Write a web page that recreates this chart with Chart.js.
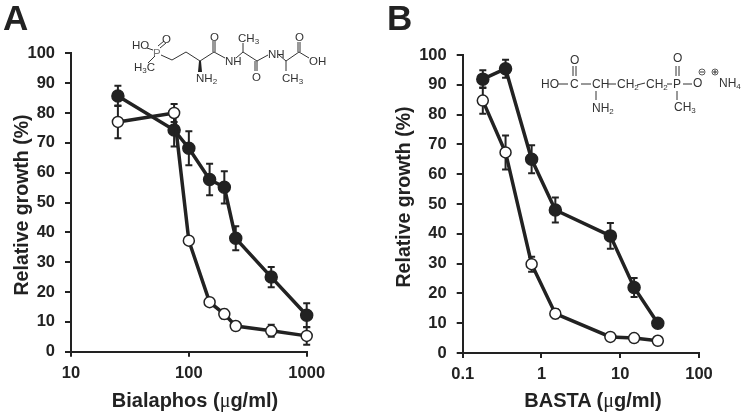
<!DOCTYPE html>
<html>
<head>
<meta charset="utf-8">
<script src="https://cdn.jsdelivr.net/npm/chart.js@4/dist/chart.umd.min.js"></script>
<style>
html, body { margin: 0; padding: 0; background: #fff; }
#wrap { position: relative; width: 747px; height: 417px; overflow: hidden; font-family: "Liberation Sans", Arial, sans-serif; color: #222; }
canvas { position: absolute; top: 0; }
#chartA { left: 0; }
#chartB { left: 374px; }
.panel { position: absolute; font-weight: bold; font-size: 35px; line-height: 35px; }
.xtitle { position: absolute; top: 389px; font-weight: bold; font-size: 20px; line-height: 22px; white-space: nowrap; transform: translateX(-50%); }
.xtitle i { font-family: "Liberation Serif", serif; font-style: normal; font-weight: normal; font-size: 20px; }
.ytitle { position: absolute; font-weight: bold; font-size: 19.5px; line-height: 22px; white-space: nowrap; transform: translate(-50%, -50%) rotate(-90deg); }
svg { position: absolute; left: 0; top: 0; }
svg text { font-family: "Liberation Sans", Arial, sans-serif; font-size: 11.5px; fill: #333; }
svg line, svg polyline { stroke: #333; stroke-width: 1; fill: none; }
</style>
</head>
<body>
<div id="wrap">
  <canvas id="chartA" width="374" height="417"></canvas>
  <canvas id="chartB" width="373" height="417"></canvas>
  <div class="panel" style="left:3px;top:0px">A</div>
  <div class="panel" style="left:387px;top:0px">B</div>
  <div class="ytitle" style="left:21px;top:205px">Relative growth (%)</div>
  <div class="ytitle" style="left:403px;top:197px">Relative growth (%)</div>
  <div class="xtitle" style="left:195px">Bialaphos (<i>μ</i>g/ml)</div>
  <div class="xtitle" style="left:593px">BASTA (<i>μ</i>g/ml)</div>

  <svg width="747" height="417">
    <!-- bialaphos -->
    <text x="132" y="49">HO</text>
    <text x="153" y="57" style="fill:#777">P</text>
    <text x="162" y="43">O</text>
    <text x="134" y="71">H<tspan dy="2" font-size="8">3</tspan><tspan dy="-2">C</tspan></text>
    <line x1="147" y1="48" x2="153" y2="50"/>
    <line x1="148" y1="63" x2="155" y2="56"/>
    <line x1="158" y1="46" x2="164" y2="41"/>
    <line x1="160" y1="48" x2="166" y2="43"/>
    <polyline points="161,55 172,60 186,52 200,61 214,52 225,58"/>
    <polygon points="199,61 201,61 202,72 198,72" fill="#222"/>
    <text x="196" y="82">NH<tspan dy="2" font-size="8">2</tspan></text>
    <line x1="213" y1="52" x2="213" y2="41"/>
    <line x1="215" y1="52" x2="215" y2="41"/>
    <text x="210" y="41">O</text>
    <text x="225" y="65">NH</text>
    <polyline points="236,58 243,52 257,61 268,55"/>
    <line x1="243" y1="52" x2="243" y2="43"/>
    <text x="238" y="42">CH<tspan dy="2" font-size="8">3</tspan></text>
    <line x1="255" y1="61" x2="255" y2="71"/>
    <line x1="257" y1="61" x2="257" y2="71"/>
    <text x="252" y="81">O</text>
    <text x="268" y="58">NH</text>
    <polyline points="279,55 286,61 299,52 309,58"/>
    <line x1="286" y1="61" x2="286" y2="71"/>
    <text x="282" y="82">CH<tspan dy="2" font-size="8">3</tspan></text>
    <line x1="298" y1="52" x2="298" y2="42"/>
    <line x1="300" y1="52" x2="300" y2="42"/>
    <text x="295" y="41">O</text>
    <text x="309" y="65">OH</text>

    <!-- basta -->
    <text x="541" y="88" style="font-size:12px">HO</text>
    <line x1="558" y1="84" x2="568" y2="84"/>
    <text x="570" y="88" style="font-size:12px">C</text>
    <line x1="573" y1="66" x2="573" y2="76"/>
    <line x1="576" y1="66" x2="576" y2="76"/>
    <text x="570" y="64" style="font-size:12px">O</text>
    <line x1="581" y1="84" x2="591" y2="84"/>
    <text x="592" y="88" style="font-size:12px">CH</text>
    <line x1="596" y1="91" x2="596" y2="100"/>
    <text x="592" y="112" style="font-size:12px">NH<tspan dy="2" font-size="8">2</tspan></text>
    <line x1="608" y1="84" x2="616" y2="84"/>
    <text x="617" y="88" style="font-size:12px">CH<tspan dy="2" font-size="8">2</tspan></text>
    <line x1="637" y1="85" x2="645" y2="83"/>
    <text x="646" y="88" style="font-size:12px">CH<tspan dy="2" font-size="8">2</tspan></text>
    <line x1="667" y1="84" x2="672" y2="84"/>
    <text x="673" y="88" style="font-size:12px">P</text>
    <line x1="676" y1="66" x2="676" y2="76"/>
    <line x1="679" y1="66" x2="679" y2="76"/>
    <text x="673" y="62" style="font-size:12px">O</text>
    <line x1="677" y1="91" x2="677" y2="100"/>
    <text x="674" y="111" style="font-size:12px">CH<tspan dy="2" font-size="8">3</tspan></text>
    <line x1="683" y1="84" x2="692" y2="84"/>
    <text x="693" y="87" style="font-size:12px">O</text>
    <circle cx="702" cy="72" r="3" fill="none" stroke="#333" stroke-width="0.8"/>
    <line x1="700" y1="72" x2="704" y2="72"/>
    <circle cx="715" cy="72" r="3" fill="none" stroke="#333" stroke-width="0.8"/>
    <line x1="713" y1="72" x2="717" y2="72"/>
    <line x1="715" y1="70" x2="715" y2="74"/>
    <text x="719" y="87" style="font-size:12px">NH<tspan dy="2" font-size="8">4</tspan></text>
  </svg>
</div>

<script>
const dark = '#222222'

const bialaphosDose = [25, 75, 100, 150, 200, 250, 500, 1000]
const bialaphosFilled = [85.7, 74.3, 68.2, 57.7, 55.1, 38, 25, 12.2]
const bialaphosFilledErr = [3.4, 5.5, 5.7, 5.3, 5.4, 4, 3.4, 4]
const bialaphosOpen = [77, 80, 37.2, 16.6, 12.6, 8.6, 7, 5.3]
const bialaphosOpenErr = [5.5, 3, 0.5, 1, 1.5, 1, 2, 3]
const bialaphosTicks = [10, 100, 1000]

const bastaFilledDose = [0.18, 0.35, 0.75, 1.5, 7.5, 15, 30]
const bastaFilled = [91.9, 95.4, 65, 48, 39.3, 22, 10]
const bastaFilledErr = [3, 3, 4.7, 4.2, 4.3, 3.2, 0.5]
const bastaOpen = [84.7, 67.3, 29.8, 13.2, 5.4, 5, 4.1]
const bastaOpenErr = [4.4, 5.7, 2.5, 1.5, 0.5, 0.5, 0.5]
const bastaTicks = [0.1, 1, 10, 100]

const percentTicks = [0, 10, 20, 30, 40, 50, 60, 70, 80, 90, 100]

// error bars go under each dataset, so the circles cover them
const errorBars = {
  id: 'errorBars',
  beforeDatasetDraw(chart, args) {
    const ds = chart.data.datasets[args.index]
    const c = chart.ctx
    const yScale = chart.scales.y
    const xScale = chart.scales.x
    c.save()
    c.strokeStyle = dark
    c.lineWidth = 2
    ds.data.forEach((p, i) => {
      const x = xScale.getPixelForValue(p.x)
      const top = yScale.getPixelForValue(p.y + ds.err[i])
      const bot = yScale.getPixelForValue(p.y - ds.err[i])
      c.beginPath()
      c.moveTo(x, top); c.lineTo(x, bot)
      c.moveTo(x - 3.5, top); c.lineTo(x + 3.5, top)
      c.moveTo(x - 3.5, bot); c.lineTo(x + 3.5, bot)
      c.stroke()
    })
    c.restore()
  }
}

function points(xs, ys) {
  return xs.map((x, i) => ({ x: x, y: ys[i] }))
}

function series(xs, ys, err, fill, radius, order) {
  return {
    data: points(xs, ys),
    err: err,
    order: order,
    borderColor: dark,
    borderWidth: 3.5,
    pointRadius: radius,
    pointBorderWidth: 1.5,
    pointBorderColor: dark,
    pointBackgroundColor: fill,
    tension: 0,
    clip: false
  }
}

function makeChart(id, datasets, xTicks, box) {
  return new Chart(document.getElementById(id), {
    type: 'line',
    data: { datasets: datasets },
    plugins: [errorBars],
    options: {
      responsive: false,
      animation: false,
      events: [],
      layout: { padding: { top: box.top, right: box.right, left: 0, bottom: 0 } },
      plugins: { legend: { display: false }, tooltip: { enabled: false } },
      scales: {
        x: {
          type: 'logarithmic',
          min: xTicks[0],
          max: xTicks[xTicks.length - 1],
          afterBuildTicks(scale) { scale.ticks = xTicks.map(v => ({ value: v, major: true })) },
          afterFit(scale) { scale.height = box.bottom },
          border: { display: true, color: dark, width: 2 },
          grid: { drawOnChartArea: false, drawTicks: true, color: dark, lineWidth: 2, tickLength: 5 },
          ticks: {
            color: dark,
            autoSkip: false,
            maxRotation: 0,
            padding: 7,
            font: { family: 'Liberation Sans', size: 16.5, weight: 'bold' },
            callback: v => String(v)
          }
        },
        y: {
          min: 0,
          max: 100,
          afterBuildTicks(scale) { scale.ticks = percentTicks.map(v => ({ value: v })) },
          afterFit(scale) { scale.width = box.left },
          border: { display: true, color: dark, width: 2 },
          grid: { drawOnChartArea: false, drawTicks: true, color: dark, lineWidth: 2, tickLength: 6 },
          ticks: {
            color: dark,
            padding: 10,
            font: { family: 'Liberation Sans', size: 16.5, weight: 'bold' }
          }
        }
      }
    }
  })
}

makeChart('chartA', [
  series(bialaphosDose, bialaphosFilled, bialaphosFilledErr, dark, 6, 2),
  series(bialaphosDose, bialaphosOpen, bialaphosOpenErr, '#ffffff', 5.5, 1)
], bialaphosTicks, { left: 71, top: 53.3, right: 67.3, bottom: 65.3 })

makeChart('chartB', [
  series(bastaFilledDose, bastaFilled, bastaFilledErr, dark, 6, 2),
  series(bastaFilledDose, bastaOpen, bastaOpenErr, '#ffffff', 5.5, 1)
], bastaTicks, { left: 88.7, top: 55, right: 48, bottom: 64 })
</script>
</body>
</html>
